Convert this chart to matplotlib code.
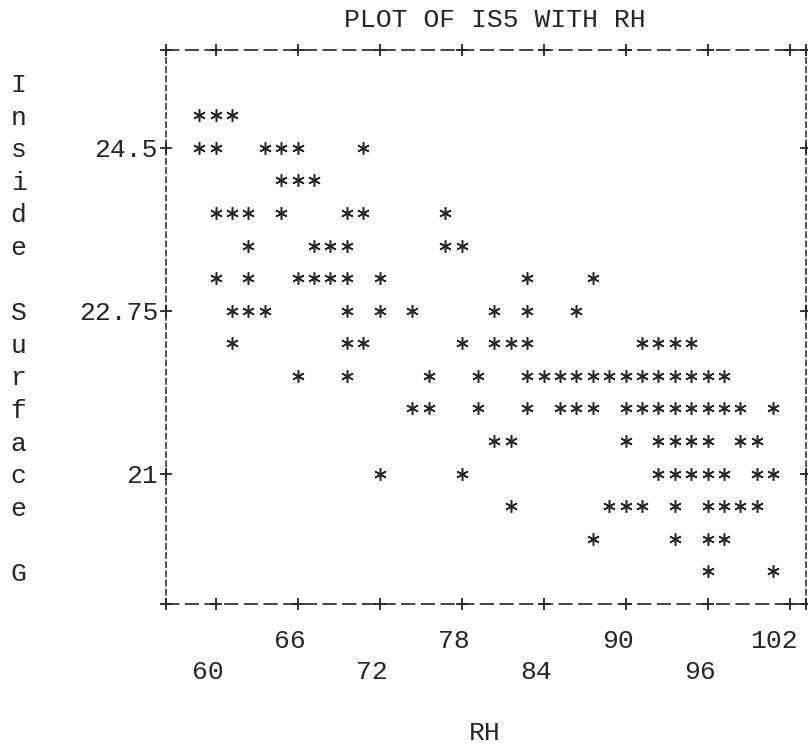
import matplotlib.pyplot as plt
from matplotlib import transforms

# IS5 print rows and the RH columns holding a '*' on each row
is5_rows = [24.85, 24.5, 24.15, 23.8, 23.45, 23.1, 22.75, 22.4,
            22.05, 21.7, 21.35, 21.0, 20.65, 20.3, 19.95]
rh_rows = [
    [58.8, 60.0, 61.2],
    [58.8, 60.0, 63.6, 64.8, 66.0, 70.8],
    [64.8, 66.0, 67.2],
    [60.0, 61.2, 62.4, 64.8, 69.6, 70.8, 76.8],
    [62.4, 67.2, 68.4, 69.6, 76.8, 78.0],
    [60.0, 62.4, 66.0, 67.2, 68.4, 69.6, 72.0, 82.8, 87.6],
    [61.2, 62.4, 63.6, 69.6, 72.0, 74.4, 80.4, 82.8, 86.4],
    [61.2, 69.6, 70.8, 78.0, 80.4, 81.6, 82.8, 91.2, 92.4, 93.6, 94.8],
    [66.0, 69.6, 75.6, 79.2, 82.8, 84.0, 85.2, 86.4, 87.6, 88.8, 90.0,
     91.2, 92.4, 93.6, 94.8, 96.0, 97.2],
    [74.4, 75.6, 79.2, 82.8, 85.2, 86.4, 87.6, 90.0, 91.2, 92.4, 93.6,
     94.8, 96.0, 97.2, 98.4, 100.8],
    [80.4, 81.6, 90.0, 92.4, 93.6, 94.8, 96.0, 98.4, 99.6],
    [72.0, 78.0, 92.4, 93.6, 94.8, 96.0, 97.2, 99.6, 100.8],
    [81.6, 88.8, 90.0, 91.2, 93.6, 96.0, 97.2, 98.4, 99.6],
    [87.6, 93.6, 96.0, 97.2],
    [96.0, 100.8],
]

x_ticks = [60, 66, 72, 78, 84, 90, 96, 102]
y_ticks = [21, 22.75, 24.5]
y_ticklabels = ['21', '22.75', '24.5']
ylabel_text = 'Inside Surface G'
title = 'PLOT OF IS5 WITH RH'
xlabel = 'RH'

ink = '#262626'
fs = 19
plt.rcParams['font.family'] = ['Liberation Mono', 'DejaVu Sans Mono']

xs, ys = [], []
for lvl, row in zip(is5_rows, rh_rows):
    for v in row:
        xs.append(v)
        ys.append(lvl)

fig = plt.figure(figsize=(8.08, 7.48), dpi=100)
ax = fig.add_axes([0.206, 0.1925, 0.7915, 0.7407])
x0, x1 = 56.4, 103.2
y0, y1 = 19.6, 25.55
ax.set_xlim(x0, x1)
ax.set_ylim(y0, y1)
ax.set_xticks([])
ax.set_yticks([])

for side in ['top', 'bottom']:
    ax.spines[side].set_linestyle((0, (7.5, 4.3)))
    ax.spines[side].set_linewidth(1.2)
    ax.spines[side].set_color(ink)
for side in ['left', 'right']:
    ax.spines[side].set_linestyle((0, (3.5, 2.5)))
    ax.spines[side].set_linewidth(1.1)
    ax.spines[side].set_color(ink)

# '+' tick marks on the frame
hx = [x0] + x_ticks + [x1]
ax.plot(hx, [y1] * len(hx), '+', ms=9, mew=1.3, color=ink, clip_on=False)
ax.plot(hx, [y0] * len(hx), '+', ms=9, mew=1.3, color=ink, clip_on=False)
ax.plot([x0] * len(y_ticks), y_ticks, '+', ms=9, mew=1.3, color=ink, clip_on=False)
ax.plot([x1] * len(y_ticks), y_ticks, '+', ms=9, mew=1.3, color=ink, clip_on=False)

# the asterisks
ax.plot(xs, ys, linestyle='none', marker=(6, 2, 0), ms=9, mew=1.1,
        color=ink, clip_on=False)

# x labels, staggered on two lines
for i, v in enumerate(x_ticks):
    off = -47.5 if i % 2 == 0 else -24.5
    ax.annotate(str(v), xy=(v, 0), xycoords=('data', 'axes fraction'),
                xytext=(6, off), textcoords='offset points',
                ha='right', va='center_baseline', fontsize=fs, color=ink)

for v, lbl in zip(y_ticks, y_ticklabels):
    ax.annotate(lbl, xy=(0, v), xycoords=('axes fraction', 'data'),
                xytext=(-6, 0), textcoords='offset points',
                ha='right', va='center_baseline', fontsize=fs, color=ink)

# vertical axis title, one letter per print line
tr = transforms.blended_transform_factory(fig.transFigure, ax.transData)
for i, ch in enumerate(ylabel_text):
    ax.text(0.023, 25.2 - 0.35 * i, ch, transform=tr, ha='center',
            va='center_baseline', fontsize=fs, color=ink)

fig.text(0.613, 0.973, title, ha='center', va='center', fontsize=fs, color=ink)
fig.text(0.6, 0.02, xlabel, ha='center', va='center', fontsize=fs, color=ink)

fig.savefig('out.png', dpi=100)
